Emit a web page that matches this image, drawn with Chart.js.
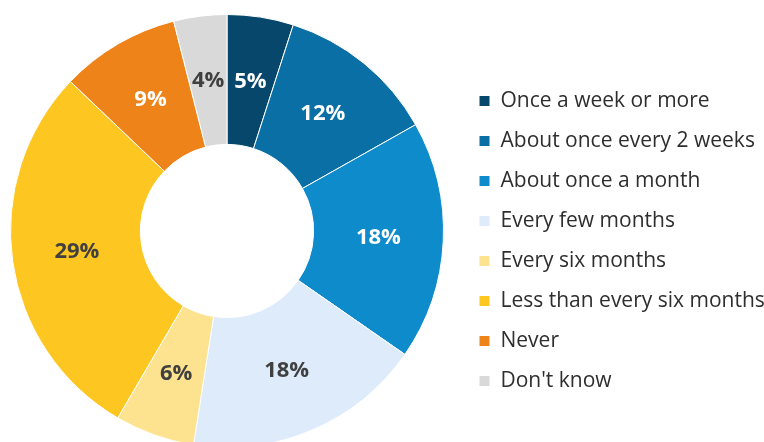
<!DOCTYPE html>
<html>
<head>
<meta charset="utf-8">
<script src="https://cdn.jsdelivr.net/npm/chart.js@4"></script>
<style>
  html, body { margin: 0; padding: 0; background: #fff; overflow: hidden; width: 764px; height: 442px; }
  #freqChart { position: absolute; left: -6px; top: 0; }
</style>
</head>
<body>
<canvas id="freqChart" width="770" height="448"></canvas>
<script>
const categories = [
  'Once a week or more',
  'About once every 2 weeks',
  'About once a month',
  'Every few months',
  'Every six months',
  'Less than every six months',
  'Never',
  "Don't know"
];
const shares = [5, 12, 18, 18, 6, 29, 9, 4];
const sliceColors = ['#08476C', '#0A6FA5', '#0E8BCB', '#DEEBFB', '#FDE28F', '#FDC620', '#EE8419', '#D9D9D9'];
const labelColors = ['#fff', '#fff', '#fff', '#404040', '#404040', '#404040', '#fff', '#404040'];

Chart.defaults.font.family = "'Open Sans', 'Liberation Sans', sans-serif";

// percent labels in the middle of each slice
const sliceLabels = {
  id: 'sliceLabels',
  afterDatasetsDraw(chart) {
    const ctx = chart.ctx;
    const meta = chart.getDatasetMeta(0);
    ctx.save();
    ctx.font = "bold 22px 'Open Sans', 'Liberation Sans', sans-serif";
    ctx.textAlign = 'center';
    ctx.textBaseline = 'middle';
    meta.data.forEach((arc, i) => {
      const p = arc.tooltipPosition();
      ctx.fillStyle = labelColors[i];
      ctx.fillText(shares[i] + '%', p.x, p.y);
    });
    ctx.restore();
  }
};

new Chart(document.getElementById('freqChart'), {
  type: 'doughnut',
  data: {
    labels: categories,
    datasets: [{
      data: shares,
      backgroundColor: sliceColors,
      borderColor: '#ffffff',
      borderWidth: 1
    }]
  },
  options: {
    responsive: false,
    animation: false,
    devicePixelRatio: 1,
    cutout: '40%',
    layout: { padding: { top: 14, left: 0, right: 0, bottom: 0 } },
    plugins: {
      tooltip: { enabled: false },
      legend: {
        position: 'right',
        maxWidth: 304,
        title: { display: true, text: ' ', font: { size: 10, lineHeight: 1 }, padding: { top: 10, bottom: 0 } },
        labels: {
          boxWidth: 11,
          boxHeight: 11,
          padding: 19,
          color: '#2e2e2e',
          font: { size: 21 }
        }
      }
    }
  },
  plugins: [sliceLabels]
});
</script>
</body>
</html>
